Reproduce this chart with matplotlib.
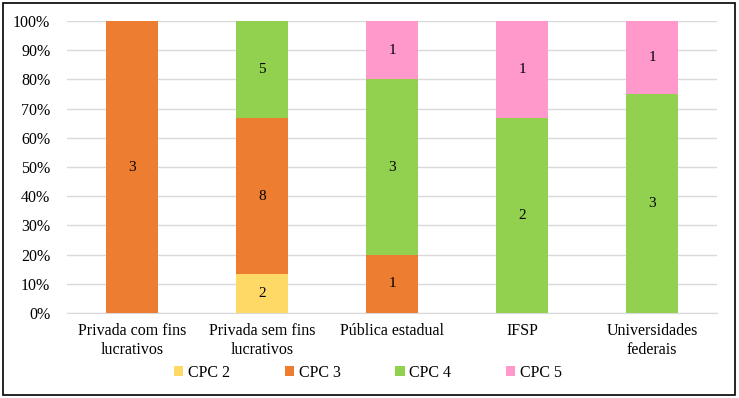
import matplotlib

matplotlib.use("Agg")
import matplotlib.pyplot as plt
import numpy as np
from matplotlib.patches import Rectangle
from matplotlib.ticker import PercentFormatter

categories = ["Privada com fins\nlucrativos", "Privada sem fins\nlucrativos",
              "Pública estadual", "IFSP", "Universidades\nfederais"]
series = ["CPC 2", "CPC 3", "CPC 4", "CPC 5"]
cpc2 = [0, 2, 0, 0, 0]
cpc3 = [3, 8, 1, 0, 0]
cpc4 = [0, 5, 3, 2, 3]
cpc5 = [0, 0, 1, 1, 1]
colors = ["#FFD966", "#ED7D31", "#92D050", "#FF99CC"]

plt.rcParams["font.family"] = ["Liberation Serif", "DejaVu Serif"]

counts = np.array([cpc2, cpc3, cpc4, cpc5], dtype=float)
shares = counts / counts.sum(axis=0) * 100

fig = plt.figure(figsize=(7.39, 3.98), dpi=100)
ax = fig.add_axes([0.0907, 0.2136, 0.8796, 0.7336])

x = np.arange(len(categories))
bottom = np.zeros(len(categories))
for name, share, cnt, col in zip(series, shares, counts, colors):
    ax.bar(x, share, 0.4, bottom=bottom, color=col, label=name, zorder=3)
    for xi, s, b, c in zip(x, share, bottom, cnt):
        if c > 0:
            ax.text(xi, b + s / 2, f"{int(c)}", ha="center", va="center",
                    fontsize=11, zorder=4)
    bottom += share

ax.set_xlim(-0.5, len(categories) - 0.5)
ax.set_ylim(0, 100)
ax.set_yticks(np.arange(0, 101, 10))
ax.yaxis.set_major_formatter(PercentFormatter(decimals=0))
ax.grid(axis="y", color="#D9D9D9", linewidth=1, zorder=0)
for side in ["top", "right", "left"]:
    ax.spines[side].set_visible(False)
ax.spines["bottom"].set_color("#D9D9D9")
ax.tick_params(length=0, labelsize=11.5)
ax.tick_params(axis="y", pad=12)
ax.set_xticks(x)
ax.set_xticklabels(categories, fontsize=11.5, linespacing=1.25)
ax.tick_params(axis="x", pad=7)

fig.legend(loc="center", bbox_to_anchor=(0.498, 0.063), ncol=4, frameon=False,
           fontsize=11.5, handlelength=0.6, handleheight=0.6, columnspacing=3.4,
           handletextpad=0.3)

fig.patches.append(Rectangle((0.004, 0.008), 0.99, 0.985, transform=fig.transFigure,
                             fill=False, edgecolor="black", linewidth=1.2))

fig.savefig("out.png", dpi=100)
